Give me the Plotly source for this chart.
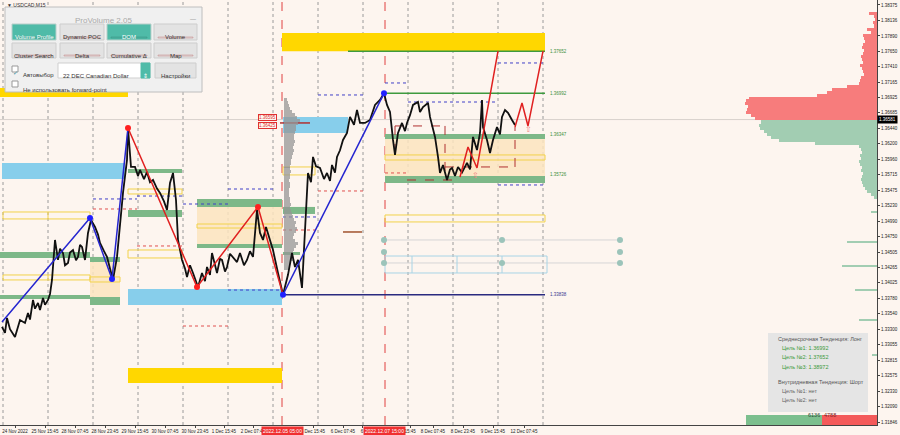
import plotly.graph_objects as go

BG = '#FDF5EF'
FONT = 'Liberation Sans'

# ---------------- axes ----------------
x_range = [0, 877]
y_range = [1.31799, 1.38453]
y_tick_vals = [1.38375, 1.38136, 1.37890, 1.37650, 1.37410, 1.37165, 1.36925, 1.36685, 1.36440,
               1.36200, 1.35960, 1.35715, 1.35475, 1.35230, 1.34990, 1.34750, 1.34505, 1.34265,
               1.34025, 1.33780, 1.33540, 1.33300, 1.33055, 1.32815, 1.32575, 1.32330, 1.32090, 1.31846]
y_tick_text = ['%.5f' % v for v in y_tick_vals]
# labels partly hidden behind the session boxes in the reference are shortened to their visible part
x_tick_pos = [15, 45, 75, 105, 135, 165, 195, 224, 253, 313, 343, 362, 410, 433, 463, 493, 524]
x_tick_text = ['24 Nov 2022', '25 Nov 15:45', '28 Nov 07:45', '28 Nov 23:45', '29 Nov 15:45',
               '30 Nov 07:45', '30 Nov 23:45', '1 Dec 15:45', '2 Dec 07:45',
               '5 Dec 15:45', '6 Dec 07:45', '6', '15:45', '8 Dec 07:45',
               '8 Dec 23:45', '9 Dec 15:45', '12 Dec 07:45']
grid_x = [3, 48, 93, 138, 183, 228, 273, 318, 363, 408, 453, 498, 543]
session_x = [282, 385]
current_price = 1.36581

# ---------------- price path (bar index, price) ----------------
price_x = [2, 5, 7, 10, 15, 18, 20, 25, 28, 30, 33, 35, 38, 40, 43, 45, 48, 50, 52, 55,
           58, 60, 63, 65, 68, 70, 73, 76, 78, 80, 82, 85, 88, 91, 95, 98, 100, 104, 107, 110,
           113, 117, 119, 123, 127, 128, 131, 135, 138, 140, 144, 147, 150, 153, 157, 160, 164, 167, 170, 173,
           176, 178, 182, 185, 187, 190, 193, 198, 202, 205, 207, 210, 212, 215, 217, 220, 222, 225, 227, 230,
           233, 237, 240, 244, 247, 250, 253, 257, 260, 263, 266, 268, 271, 273, 278, 283, 288, 292, 295, 298,
           302, 305, 308, 311, 313, 316, 320, 324, 327, 330, 332, 335, 337, 340, 343, 347, 350, 354, 357, 360,
           365, 370, 375, 380, 384, 387, 390, 393, 395, 398, 402, 405, 407, 410, 413, 418, 420, 423, 428, 430,
           435, 438, 440, 443, 447, 450, 452, 455, 458, 462, 467, 470, 473, 477, 480, 482, 483, 487, 490, 493,
           497, 500, 502, 505, 508, 512, 515]
price_y = [1.33334, 1.33240, 1.33475, 1.33300, 1.33177, 1.33350, 1.33443, 1.33396, 1.33553, 1.33450,
           1.33757, 1.33620, 1.33710, 1.33600, 1.33788, 1.33680, 1.33757, 1.33850, 1.34070, 1.34696,
           1.34383, 1.34560, 1.34492, 1.34300, 1.34336, 1.34500, 1.34539, 1.34380, 1.34430, 1.34620,
           1.34586, 1.34383, 1.34806, 1.35009, 1.34900, 1.34780, 1.34649, 1.34520, 1.34430, 1.34250,
           1.34070, 1.34430, 1.34806, 1.35432, 1.35949, 1.36450, 1.35839, 1.35839, 1.35700, 1.35792,
           1.35650, 1.35761, 1.35600, 1.35635, 1.35500, 1.35432, 1.35300, 1.35166, 1.35589, 1.35745,
           1.35322, 1.34696, 1.34383, 1.34250, 1.34117, 1.34300, 1.34179, 1.33960, 1.34179, 1.34050,
           1.34273, 1.34150, 1.34492, 1.34300, 1.34179, 1.34400, 1.34383, 1.34200, 1.34273, 1.34480,
           1.34430, 1.34350, 1.34492, 1.34300, 1.34383, 1.34520, 1.34430, 1.35166, 1.34806, 1.34696,
           1.34900, 1.34806, 1.34650, 1.34539, 1.34179, 1.33838, 1.34150, 1.34492, 1.34273, 1.34383,
           1.33945, 1.34774, 1.35745, 1.35600, 1.35996, 1.35850, 1.35823, 1.35650, 1.35745, 1.35620,
           1.35870, 1.35750, 1.35996, 1.36100, 1.36262, 1.36371, 1.36622, 1.36500, 1.36731, 1.36528,
           1.36528, 1.36575, 1.36810, 1.36888, 1.36992, 1.36810, 1.36700, 1.36262, 1.36027, 1.36371,
           1.36528, 1.36400, 1.36528, 1.36650, 1.36810, 1.36857, 1.36700, 1.36778, 1.36841, 1.36622,
           1.36309, 1.35996, 1.35745, 1.35870, 1.35635, 1.35800, 1.35823, 1.35700, 1.35839, 1.35750,
           1.35902, 1.35800, 1.36309, 1.36105, 1.36371, 1.36888, 1.36465, 1.36262, 1.36058, 1.36262,
           1.36465, 1.36350, 1.36622, 1.36731, 1.36685, 1.36575, 1.36497]

# ---------------- zigzag ----------------
zz_blue1_x = [2, 90, 112, 128]
zz_blue1_y = [1.33412, 1.35041, 1.34085, 1.36450]
zz_red_x = [128, 197, 258, 283]
zz_red_y = [1.36450, 1.33960, 1.35213, 1.33838]
zz_blue2_x = [283, 384]
zz_blue2_y = [1.33838, 1.36992]
proj1_x = [460, 468, 477, 498]
proj1_y = [1.35682, 1.36152, 1.35823, 1.37652]
proj2_x = [515, 522, 528, 543]
proj2_y = [1.36465, 1.36841, 1.36481, 1.37652]
red_dot_x = [128, 197, 258]
red_dot_y = [1.36450, 1.33960, 1.35213]
blue_dot_x = [90, 112, 283, 384]
blue_dot_y = [1.35041, 1.34085, 1.33838, 1.36992]
arrow_x = [475, 528]
arrow_y = [1.35700, 1.36420]

# ---------------- zones (x0, x1, price_top, price_bottom) ----------------
gold_zones = [(282, 545, 1.37936, 1.37652), (128, 282, 1.32691, 1.32456), (0, 128, 1.37075, 1.36934)]
sky_zones = [(2, 125, 1.35902, 1.35651), (128, 282, 1.33928, 1.33678), (283, 348, 1.36622, 1.36371)]
green_zones = [(0, 90, 1.34508, 1.34414), (90, 120, 1.34430, 1.34351), (0, 90, 1.33834, 1.33772),
               (90, 120, 1.33803, 1.33678), (128, 182, 1.35807, 1.35745), (128, 182, 1.35166, 1.35056),
               (197, 282, 1.35338, 1.35213), (197, 282, 1.34633, 1.34570), (283, 315, 1.35213, 1.35103),
               (283, 300, 1.34508, 1.34461), (385, 545, 1.36355, 1.36277), (385, 545, 1.35698, 1.35588)]
peach_zones = [(385, 545, 1.36277, 1.35698), (90, 120, 1.34351, 1.33803), (197, 282, 1.35213, 1.34633)]
yellow_boxes = [(3, 90, 1.35134, 1.35025), (3, 90, 1.34148, 1.34070), (90, 120, 1.34117, 1.34038),
                (128, 182, 1.35494, 1.35416), (128, 182, 1.34539, 1.34414), (197, 282, 1.34946, 1.34883),
                (283, 315, 1.35839, 1.35714), (385, 545, 1.36027, 1.35948), (385, 545, 1.35087, 1.34978)]
blue_dotted = [(93, 137, 1.35338), (137, 183, 1.35384), (183, 228, 1.35259), (228, 273, 1.35494),
               (283, 318, 1.35056), (318, 363, 1.36966), (385, 408, 1.37154), (408, 498, 1.36856),
               (498, 543, 1.37467), (498, 545, 1.35557), (228, 282, 1.33912)]
red_dotted = [(93, 137, 1.35181), (137, 183, 1.34602), (183, 228, 1.33349), (283, 318, 1.34852),
              (318, 363, 1.35463), (385, 408, 1.35745)]
dark_red_dashed = [(395, 1.36481, 445, 1.36481), (445, 1.36481, 445, 1.35635), (445, 1.35839, 515, 1.35839),
                   (515, 1.35839, 515, 1.36465), (395, 1.36481, 395, 1.36105), (407, 1.35635, 452, 1.35635)]
green_lines = [(385, 545, 1.36992), (348, 545, 1.37652)]
navy_line = (283, 545, 1.33838)
brown_line = (343, 362, 1.34821)
gray_lines = [(384, 620, 1.34696), (384, 620, 1.34336)]
grid_box = (385, 547, 1.34445, 1.34179)
grid_box_div = [412, 457, 502]
circle_x = [384, 384, 384, 502, 502, 620, 620, 620]
circle_y = [1.34696, 1.34508, 1.34336, 1.34696, 1.34336, 1.34696, 1.34508, 1.34336]
level_labels = [('1.37652', 1.37652, '#3C8F3C'), ('1.36992', 1.36992, '#3C8F3C'),
                ('1.36347', 1.36347, '#3C8F3C'), ('1.35726', 1.35726, '#3C8F3C'),
                ('1.33838', 1.33838, '#3A3A8F')]

# ---------------- volume profiles ----------------
gray_levels = [1.36888, 1.36841, 1.36794, 1.36747, 1.36700, 1.36653, 1.36606, 1.36559, 1.36512, 1.36465,
               1.36418, 1.36371, 1.36324, 1.36277, 1.36230, 1.36183, 1.36136, 1.36089, 1.36042, 1.35995,
               1.35948, 1.35901, 1.35854, 1.35808, 1.35761, 1.35714, 1.35667, 1.35620, 1.35573, 1.35526,
               1.35479, 1.35432, 1.35385, 1.35338, 1.35291, 1.35244, 1.35197, 1.35150, 1.35103, 1.35056,
               1.35009, 1.34962, 1.34915, 1.34868, 1.34821, 1.34774, 1.34727, 1.34680, 1.34633, 1.34586,
               1.34539, 1.34492, 1.34445, 1.34398, 1.34351, 1.34304, 1.34257]
gray_vol = [3, 4, 5, 6, 8, 11, 13, 16, 14, 12, 12, 11, 10, 10, 11, 10, 9, 10, 9, 8,
            7, 7, 6, 6, 7, 6, 6, 5, 6, 6, 5, 5, 5, 6, 6, 7, 6, 7, 8, 9,
            10, 12, 11, 13, 12, 10, 9, 11, 14, 12, 10, 9, 8, 10, 7, 6, 5]
sell_levels = [1.38234, 1.38187, 1.38140, 1.38093, 1.38046, 1.37999, 1.37952, 1.37905, 1.37858, 1.37811,
               1.37764, 1.37717, 1.37670, 1.37623, 1.37576, 1.37529, 1.37482, 1.37435, 1.37388, 1.37341,
               1.37294, 1.37247, 1.37200, 1.37153, 1.37106, 1.37059, 1.37012, 1.36965, 1.36918, 1.36872,
               1.36825, 1.36778, 1.36731, 1.36684, 1.36637, 1.36590]
sell_vol = [8, 3, 2, 4, 3, 10, 6, 14, 13, 12, 14, 15, 13, 14, 16, 15, 14, 17, 15, 14,
            13, 16, 17, 18, 30, 45, 50, 60, 128, 131, 132, 129, 130, 131, 126, 122]
buy_levels = [1.36543, 1.36496, 1.36449, 1.36402, 1.36355, 1.36308, 1.36261, 1.36214, 1.36167, 1.36120,
              1.36073, 1.36026, 1.35979, 1.35932, 1.35885, 1.35838, 1.35791, 1.35744, 1.35697, 1.35650,
              1.35603, 1.35556, 1.35509, 1.35462, 1.35415, 1.35368]
buy_vol = [116, 118, 117, 113, 110, 106, 98, 62, 18, 16, 15, 17, 16, 18, 17, 15, 16, 14, 15, 16,
           15, 14, 12, 10, 6, 3]
buy_spike_levels = [1.35134, 1.34664, 1.34288, 1.33912, 1.33443, 1.32895]
buy_spike_vol = [6, 30, 35, 22, 18, 5]
delta_buy, delta_sell = 6136, 4788

info_lines = [('Среднесрочная Тенденция: Лонг', '#555555', 776),
              ('Цель №1: 1.36992', '#3C9A3C', 780),
              ('Цель №2: 1.37652', '#3C9A3C', 780),
              ('Цель №3: 1.38972', '#3C9A3C', 780),
              ('Внутридневная Тенденция: Шорт', '#555555', 776),
              ('Цель №1: нет', '#666666', 780),
              ('Цель №2: нет', '#666666', 780)]
info_rows_y = [344, 353, 362, 372, 387, 396, 405]

AXIS_RIGHT = 877
PLOT_H = 425


def P(px, py):
    return px / AXIS_RIGHT, 1 - py / PLOT_H


fig = go.Figure()
shapes = []
annos = []


def rect(x0, x1, y0, y1, fill, line='rgba(0,0,0,0)', lw=0, layer='below'):
    shapes.append(dict(type='rect', xref='x', yref='y', x0=x0, x1=x1, y0=y0, y1=y1,
                       fillcolor=fill, line=dict(color=line, width=lw), layer=layer))


def hline(x0, x1, y, color, dash='solid', w=1, layer='below'):
    shapes.append(dict(type='line', xref='x', yref='y', x0=x0, x1=x1, y0=y, y1=y,
                       line=dict(color=color, width=w, dash=dash), layer=layer))


for gx in grid_x:
    shapes.append(dict(type='line', xref='x', yref='paper', x0=gx, x1=gx, y0=0, y1=1,
                       line=dict(color='#9A9A9A', width=1, dash='dot'), layer='below'))
hline(0, AXIS_RIGHT, current_price, '#D8D0CC', w=1)

for z in peach_zones:
    rect(z[0], z[1], z[2], z[3], 'rgba(252,228,190,0.85)')
for z in gold_zones:
    rect(z[0], z[1], z[2], z[3], '#FFD700')
for z in sky_zones:
    rect(z[0], z[1], z[2], z[3], '#87CEEB')
for z in green_zones:
    rect(z[0], z[1], z[2], z[3], '#7DB888')
for z in yellow_boxes:
    rect(z[0], z[1], z[2], z[3], 'rgba(0,0,0,0)', '#F2D24A', 1)
for z in yellow_boxes[:2]:
    shapes.append(dict(type='line', xref='x', yref='y', x0=48, x1=48, y0=z[2], y1=z[3],
                       line=dict(color='#F2D24A', width=1), layer='below'))
for s in blue_dotted:
    hline(s[0], s[1], s[2], '#4040C8', 'dot', 1)
for s in red_dotted:
    hline(s[0], s[1], s[2], '#E05050', 'dot', 1)
for s in dark_red_dashed:
    shapes.append(dict(type='line', xref='x', yref='y', x0=s[0], y0=s[1], x1=s[2], y1=s[3],
                       line=dict(color='#B03030', width=1, dash='dash'), layer='below'))
for s in green_lines:
    hline(s[0], s[1], s[2], '#3E9A3E', w=1.5)
hline(navy_line[0], navy_line[1], navy_line[2], '#2A2A80', w=1.5)
hline(brown_line[0], brown_line[1], brown_line[2], '#A0522D', w=1.5)
for s in gray_lines:
    hline(s[0], s[1], s[2], '#D6D6D6', w=1)
rect(grid_box[0], grid_box[1], grid_box[2], grid_box[3], 'rgba(0,0,0,0)', '#A8D4E6', 1)
for d in grid_box_div:
    shapes.append(dict(type='line', xref='x', yref='y', x0=d, x1=d, y0=grid_box[2], y1=grid_box[3],
                       line=dict(color='#A8D4E6', width=1), layer='below'))
for sx in session_x:
    shapes.append(dict(type='line', xref='x', yref='paper', x0=sx, x1=sx, y0=0, y1=1,
                       line=dict(color='#E04040', width=1, dash='dash'), layer='below'))
hline(280, 310, 1.36528, '#B03030', w=1.5)

# ---------------- traces ----------------
fig.add_trace(go.Bar(orientation='h', y=gray_levels, x=gray_vol, base=[284] * len(gray_vol),
                     width=0.00047, marker=dict(color='rgba(150,150,150,0.75)', line=dict(width=0))))
fig.add_trace(go.Bar(orientation='h', y=sell_levels, x=sell_vol, base=[AXIS_RIGHT - v for v in sell_vol],
                     width=0.00047, marker=dict(color='#F77C7C', line=dict(width=0))))
fig.add_trace(go.Bar(orientation='h', y=buy_levels, x=buy_vol, base=[AXIS_RIGHT - v for v in buy_vol],
                     width=0.00047, marker=dict(color='#A2CDB2', line=dict(width=0))))
fig.add_trace(go.Bar(orientation='h', y=buy_spike_levels, x=buy_spike_vol,
                     base=[AXIS_RIGHT - v for v in buy_spike_vol],
                     width=0.00012, marker=dict(color='#A2CDB2', line=dict(width=0))))

fig.add_trace(go.Scatter(x=price_x, y=price_y, mode='lines', line=dict(color='#111111', width=1.8)))
fig.add_trace(go.Scatter(x=zz_blue1_x, y=zz_blue1_y, mode='lines', line=dict(color='#2525D0', width=1.5)))
fig.add_trace(go.Scatter(x=zz_blue2_x, y=zz_blue2_y, mode='lines', line=dict(color='#2525D0', width=1.5)))
fig.add_trace(go.Scatter(x=zz_red_x, y=zz_red_y, mode='lines', line=dict(color='#E02020', width=1.5)))
fig.add_trace(go.Scatter(x=proj1_x, y=proj1_y, mode='lines', line=dict(color='#E02020', width=1.5)))
fig.add_trace(go.Scatter(x=proj2_x, y=proj2_y, mode='lines', line=dict(color='#E02020', width=1.5)))
fig.add_trace(go.Scatter(x=red_dot_x, y=red_dot_y, mode='markers', marker=dict(color='#FF2020', size=6)))
fig.add_trace(go.Scatter(x=blue_dot_x, y=blue_dot_y, mode='markers', marker=dict(color='#2020FF', size=6)))
fig.add_trace(go.Scatter(x=circle_x, y=circle_y, mode='markers',
                         marker=dict(color='#9CC4BA', size=6, line=dict(width=0))))
fig.add_trace(go.Scatter(x=arrow_x, y=arrow_y, mode='text', text=['⇧', '⇧'],
                         textfont=dict(color='#F08080', size=8)))

# ---------------- labels on chart ----------------
for txt, yv, col in level_labels:
    annos.append(dict(x=548, y=yv, xref='x', yref='y', text=txt, showarrow=False, xanchor='left',
                      font=dict(size=4.5, color=col, family=FONT)))
for txt, yv in [('1.36595', 1.36606), ('1.36425', 1.36496)]:
    annos.append(dict(x=267, y=yv, xref='x', yref='y', text=txt, showarrow=False,
                      font=dict(size=4.5, color='#E03030', family=FONT), bgcolor=BG,
                      bordercolor='#E03030', borderwidth=1, borderpad=0))
annos.append(dict(x=1.0, y=current_price, xref='paper', yref='y', text='1.36581', showarrow=False,
                  xanchor='left', font=dict(size=4.5, color='white', family=FONT), bgcolor='black',
                  borderpad=1))
for txt, xv in [('2022.12.05 05:00', 282), ('2022.12.07 15:00', 384)]:
    annos.append(dict(x=xv, y=-1.5 / PLOT_H, xref='x', yref='paper', text=txt, showarrow=False,
                      yanchor='top', font=dict(size=5, color='white', family=FONT), bgcolor='#F03030',
                      borderpad=1))
annos.append(dict(x=P(5, 2)[0], y=1.0, xref='paper', yref='paper', text='▼ USDCAD,M15', showarrow=False,
                  xanchor='left', yanchor='top', font=dict(size=5, color='#333', family=FONT)))

bx0, by0 = P(768, 333)
bx1, by1 = P(868, 412)
shapes.append(dict(type='rect', xref='paper', yref='paper', x0=bx0, x1=bx1, y0=by1, y1=by0,
                   fillcolor='rgba(228,228,228,0.95)', line=dict(width=0), layer='above'))
for (txt, col, lx), ry in zip(info_lines, info_rows_y):
    ax, ay = P(lx, ry)
    annos.append(dict(x=ax, y=ay, xref='paper', yref='paper', text=txt, showarrow=False,
                      xanchor='left', font=dict(size=5.5, color=col, family=FONT)))
gx0, gy0 = P(746, 415)
gx1, gy1 = P(822, 425)
rx1, _ = P(877, 425)
shapes.append(dict(type='rect', xref='paper', yref='paper', x0=gx0, x1=gx1, y0=gy1, y1=gy0,
                   fillcolor='#7CBF8E', line=dict(width=0), layer='above'))
shapes.append(dict(type='rect', xref='paper', yref='paper', x0=gx1, x1=rx1, y0=gy1, y1=gy0,
                   fillcolor='#F45A5A', line=dict(width=0), layer='above'))
annos.append(dict(x=gx1, y=(gy0 + gy1) / 2, xref='paper', yref='paper', text=str(delta_buy),
                  showarrow=False, xanchor='right', font=dict(size=5.5, color='#2F4F3A', family=FONT)))
annos.append(dict(x=gx1, y=(gy0 + gy1) / 2, xref='paper', yref='paper', text=str(delta_sell),
                  showarrow=False, xanchor='left', font=dict(size=5.5, color='#7A1F1F', family=FONT)))

# ---------------- ProVolume panel ----------------
TEAL = '#4FBBA8'


def prect(x0, y0, x1, y1, fill, line='#C8C8C8', lw=1):
    a, b = P(x0, y0)
    c, d = P(x1, y1)
    shapes.append(dict(type='rect', xref='paper', yref='paper', x0=a, x1=c, y0=d, y1=b,
                       fillcolor=fill, line=dict(color=line, width=lw), layer='above'))


def ptext(x, y, txt, size, color, anchor='center'):
    a, b = P(x, y)
    annos.append(dict(x=a, y=b, xref='paper', yref='paper', text=txt, showarrow=False, xanchor=anchor,
                      font=dict(size=size, color=color, family=FONT)))


prect(5, 7, 202, 92, '#F0F0F0', '#BEBEBE')
ptext(103, 14, 'ProVolume 2.05', 8, '#A9A9A9')
ptext(193, 14, '—', 6, '#888')
buttons = [(12, 24, 56, 40, 'Volume Profile', True), (60, 24, 104, 40, 'Dynamic POC', False),
           (107, 24, 151, 40, 'DOM', True), (154, 24, 197, 40, 'Volume', False),
           (12, 43, 56, 58, 'Cluster Search', False), (60, 43, 104, 58, 'Delta', False),
           (107, 43, 151, 58, 'Cumulative Δ', False), (154, 43, 197, 58, 'Map', False)]
for x0, y0, x1, y1, lab, on in buttons:
    prect(x0, y0, x1, y1, TEAL if on else '#E3E3E3', '#B8CFCA' if on else '#CDCDCD')
    ptext((x0 + x1) / 2, (y0 + y1) / 2 + 0.5, lab, 6, 'white' if on else '#333333')
    prect(x0 + 4, y1 - 3, x1 - 4, y1 - 2, 'rgba(0,0,0,0)', '#C08080' if not on else '#3A9080', 0.5)
prect(12, 66, 18, 72, 'white', '#999999')
ptext(15, 68.5, '✓', 6, '#3A8FA0')
ptext(21, 70, 'Автовыбор', 6, '#333333', 'left')
prect(58, 63, 150, 78, 'white', '#CFCFCF')
prect(141, 63, 150, 78, TEAL, TEAL)
ptext(145.5, 70.5, '⇕', 6, 'white')
ptext(61, 70.5, '22 DEC Canadian Dollar', 6, '#333333', 'left')
prect(155, 63, 196, 78, '#E3E3E3', '#CDCDCD')
ptext(175.5, 70.5, 'Настройки', 6, '#333333')
prect(12, 81, 18, 87, 'white', '#999999')
ptext(21, 84.5, 'Не использовать forward-point', 6, '#333333', 'left')

fig.update_layout(
    width=900, height=435, margin=dict(l=0, r=23, t=0, b=10, autoexpand=False),
    paper_bgcolor=BG, plot_bgcolor=BG, showlegend=False, barmode='overlay', bargap=0,
    shapes=shapes, annotations=annos, font=dict(family=FONT),
    xaxis=dict(range=x_range, showgrid=False, zeroline=False, tickmode='array', tickvals=x_tick_pos,
               ticktext=x_tick_text, tickfont=dict(size=4.5, color='#222'), ticks='outside', ticklen=2,
               tickangle=0, automargin=False,
               tickcolor='#444', showline=True, linecolor='#444', linewidth=1, fixedrange=True),
    yaxis=dict(range=y_range, side='right', showgrid=False, zeroline=False, tickmode='array',
               tickvals=y_tick_vals, ticktext=y_tick_text, tickfont=dict(size=4.5, color='#222'),
               ticks='outside', ticklen=2, tickcolor='#444', showline=True, linecolor='#444',
               linewidth=1, fixedrange=True, automargin=False),
)

fig.write_html("out.html", config={'displayModeBar': False})
with open("out.html", "r", encoding="utf-8") as f:
    html = f.read()
html = html.replace("<head>", "<head><style>body{margin:0;padding:0;overflow:hidden;}</style>", 1)
with open("out.html", "w", encoding="utf-8") as f:
    f.write(html)
